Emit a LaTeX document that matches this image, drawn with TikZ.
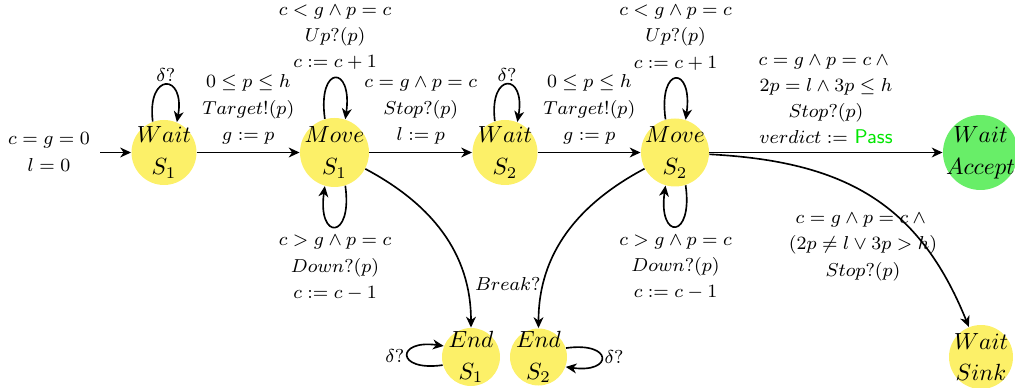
\documentclass[tikz,border=0pt]{standalone}
\usetikzlibrary{arrows.meta}
\definecolor{stateyellow}{RGB}{252,240,104}
\definecolor{acceptgreen}{RGB}{104,238,104}
\definecolor{passgreen}{RGB}{0,230,0}
\newdimen\pxu \pxu=0.4274pt
\begin{document}
\begin{tikzpicture}[x=0.4274pt, y=0.4274pt,
  >={Stealth[length=4.6pt,width=4.2pt,inset=1.4pt]},
  tr/.style={->, line width=0.7pt},
  state/.style={circle, fill=stateyellow, inner sep=0pt},
  stxt/.style={font=\fontsize{10}{13.5}\selectfont, align=center, inner sep=0pt},
  lbl/.style={font=\fontsize{8.5}{11.2}\selectfont, align=center},
]
\useasboundingbox (0,0) rectangle (1015,-388);

% states
\node[state, minimum size=65\pxu, label={[stxt]center:$Wait$\\$S_1$}] (ws1) at (164,-152.5) {};
\node[state, minimum size=69\pxu, label={[stxt]center:$Move$\\$S_1$}] (ms1) at (334.5,-152.5) {};
\node[state, minimum size=65\pxu, label={[stxt]center:$Wait$\\$S_2$}] (ws2) at (505,-152.5) {};
\node[state, minimum size=68\pxu, label={[stxt]center:$Move$\\$S_2$}] (ms2) at (675,-152.5) {};
\node[state, fill=acceptgreen, minimum size=75\pxu, label={[stxt]center:$Wait$\\$Accept$}] (acc) at (980.5,-152.5) {};
\node[state, minimum size=58\pxu, label={[stxt]center:$End$\\$S_1$}] (es1) at (471,-357) {};
\node[state, minimum size=57\pxu, label={[stxt]center:$End$\\$S_2$}] (es2) at (538.5,-357) {};
\node[state, minimum size=64\pxu, label={[stxt]center:$Wait$\\$Sink$}] (snk) at (981,-357) {};

% initial transition
\coordinate (init) at (100,-152.5);
\node[lbl] (linit) at (49,-152) {$c = g = 0$\\$l = 0$};
\draw[tr] (init) -- (ws1);

% straight transitions
\draw[tr] (ws1) -- node[lbl, above] {$0 \le p \le h$\\$Target!(p)$\\$g := p$} (ms1);
\draw[tr] (ms1) -- node[lbl, above] {$c = g \land p = c$\\$Stop?(p)$\\$l := p$} (ws2);
\draw[tr] (ws2) -- node[lbl, above] {$0 \le p \le h$\\$Target!(p)$\\$g := p$} (ms2);
\draw[tr] (ms2) -- node[lbl, above] {$c = g \land p = c \land{}$\\$2p = l \land 3p \le h$\\$Stop?(p)$\\$verdict :=$ \textsf{\color{passgreen}Pass}} (acc);

% curved transitions
\draw[tr] (ms1) to[out=-28, in=90] (es1);
\draw[tr] (ms2) to[out=208, in=90] node[lbl, pos=0.79, anchor=east, inner sep=1pt] {$Break?$} (es2);
\draw[tr] (ms2) to[out=-3, in=112, looseness=1.1] (snk);
\node[lbl] (lsnk) at (863,-247) {$c = g \land p = c \land{}$\\$(2p \neq l \lor 3p > h)$\\$Stop?(p)$};

% self loops
\draw[tr] (ws1.110) .. controls +(97:50) and +(80:50) .. (ws1.67)
  node[lbl, pos=0.5, above, inner sep=1pt] {$\delta?$};
\draw[tr] (ws2.108) .. controls +(97:50) and +(80:50) .. (ws2.68)
  node[lbl, pos=0.5, above, inner sep=1pt] {$\delta?$};
\draw[tr] (ms1.106) .. controls +(98:55) and +(82:55) .. (ms1.72)
  node[lbl, pos=0.5, above] {$c < g \land p = c$\\$Up?(p)$\\$c := c + 1$};
\draw[tr] (ms1.-72) .. controls +(-82:55) and +(-98:55) .. (ms1.-106)
  node[lbl, pos=0.5, below] {$c > g \land p = c$\\$Down?(p)$\\$c := c - 1$};
\draw[tr] (ms2.106) .. controls +(98:55) and +(82:55) .. (ms2.72)
  node[lbl, pos=0.5, above] {$c < g \land p = c$\\$Up?(p)$\\$c := c + 1$};
\draw[tr] (ms2.-72) .. controls +(-82:55) and +(-98:55) .. (ms2.-106)
  node[lbl, pos=0.5, below] {$c > g \land p = c$\\$Down?(p)$\\$c := c - 1$};
\draw[tr] (es1.196) .. controls +(188:48) and +(172:48) .. (es1.158)
  node[lbl, pos=0.5, left, inner sep=1pt] {$\delta?$};
\draw[tr] (es2.18) .. controls +(8:48) and +(-8:48) .. (es2.-20)
  node[lbl, pos=0.5, right, inner sep=1pt] {$\delta?$};
\end{tikzpicture}
\end{document}
